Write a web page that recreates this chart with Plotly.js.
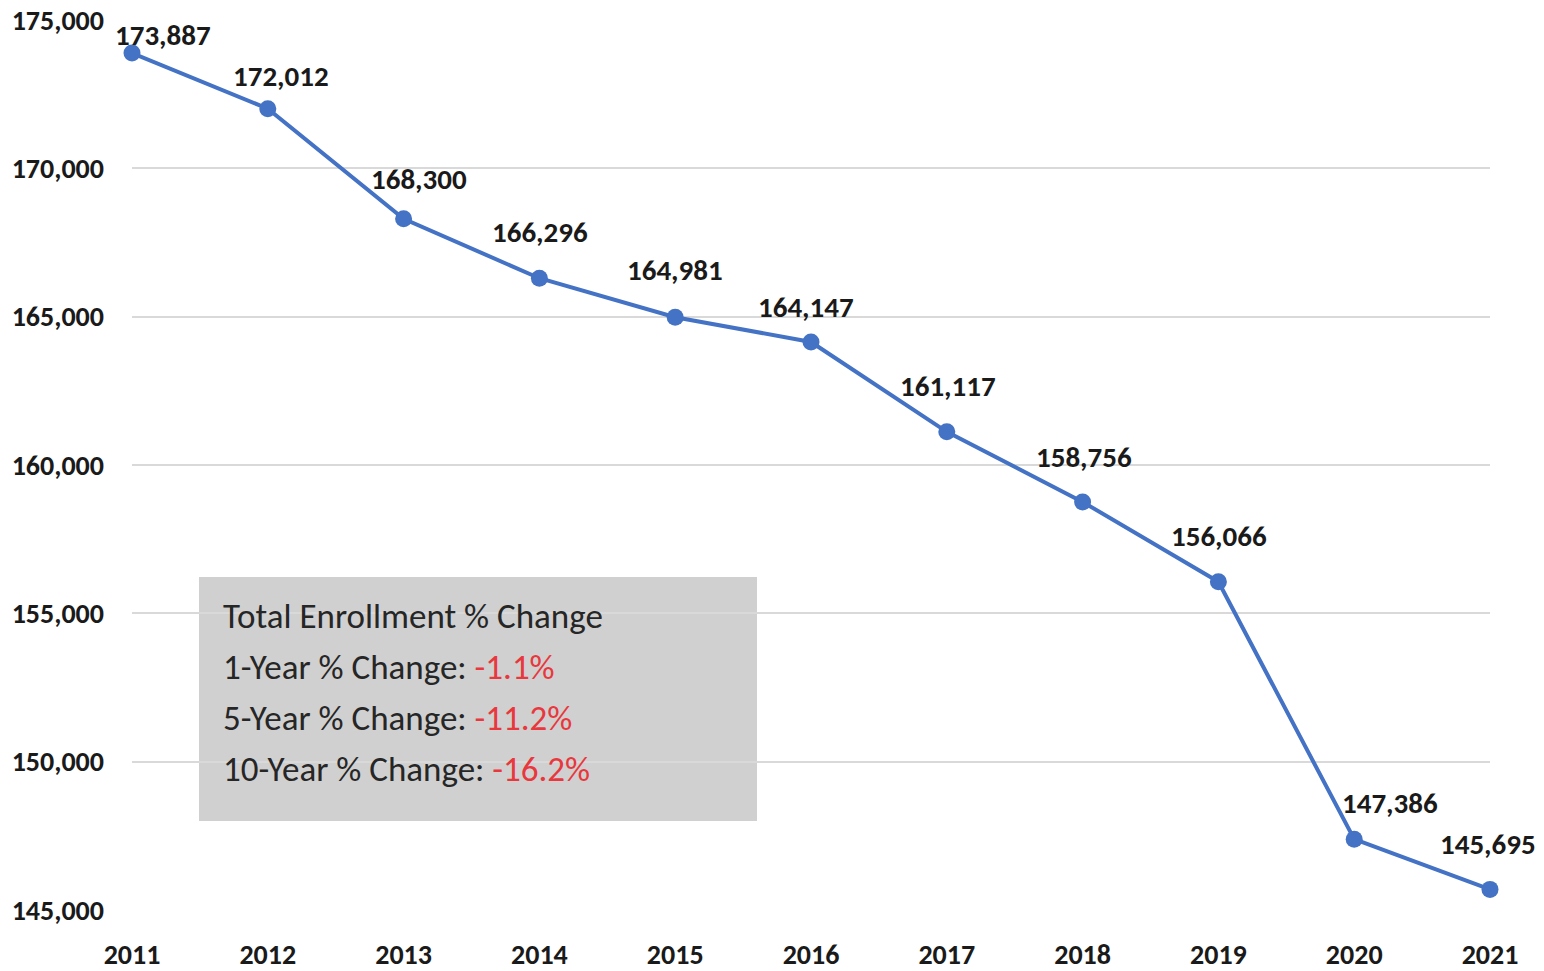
<!DOCTYPE html>
<html><head><meta charset="utf-8">
<script src="https://cdn.plot.ly/plotly-3.0.1.min.js"></script>
<style>html,body{margin:0;padding:0;background:#fff}#chart{width:1544px;height:971px}</style>
</head><body><div id="chart"></div>
<script>
const years = [2011, 2012, 2013, 2014, 2015, 2016, 2017, 2018, 2019, 2020, 2021];
const enrollment = [173887, 172012, 168300, 166296, 164981, 164147, 161117, 158756, 156066, 147386, 145695];
const yTicks = [145000, 150000, 155000, 160000, 165000, 170000, 175000];
const boxTitle = "Total Enrollment % Change";
const changeLabels = ["1-Year % Change:", "5-Year % Change:", "10-Year % Change:"];
const changeValues = ["-1.1%", "-11.2%", "-16.2%"];

// label placement offsets (pixels) — layout only
const labelDX = [31, 13, 15, 1, 0, -5, 1, 1, 1, 36, -2];
const labelDY = [-18, -33, -40, -46, -47, -35, -46, -45, -46, -36, -45];

const FONT = "Carlito, Lato, 'Open Sans', sans-serif";
const fmt = v => v.toLocaleString('en-US');

const annotations = years.map((yr, i) => ({
  x: yr, y: enrollment[i], xref: 'x', yref: 'y',
  text: '<b>' + fmt(enrollment[i]) + '</b>',
  showarrow: true, arrowcolor: 'rgba(0,0,0,0)', ax: labelDX[i], ay: labelDY[i],
  font: {family: FONT, size: 29, color: '#1a1a1a'}
}));

const boxLines = [boxTitle].concat(changeLabels.map((l, i) =>
  l + ' <span style="color:#e8383d">' + changeValues[i] + '</span>'));
boxLines.forEach((t, i) => annotations.push({
  xref: 'paper', yref: 'paper', x: (221 - 132) / (1490 - 132), y: 1 - (616 - 20 + i * 51) / 890,
  xanchor: 'left', yanchor: 'middle', showarrow: false, text: t,
  font: {family: FONT, size: 35, color: '#262626'}
}));

const shapes = [{
  type: 'rect', xref: 'paper', yref: 'paper', layer: 'below',
  x0: (199 - 132) / 1358, x1: (757 - 132) / 1358,
  y0: 1 - (821 - 20) / 890, y1: 1 - (577 - 20) / 890,
  fillcolor: '#d0d0d0', line: {width: 0}
}];

Plotly.newPlot('chart', [{
  type: 'scatter', mode: 'lines+markers', x: years, y: enrollment,
  line: {color: '#4472c4', width: 4}, marker: {color: '#4472c4', size: 17},
  cliponaxis: false, hoverinfo: 'skip'
}], {
  width: 1544, height: 971,
  margin: {l: 132, r: 54, t: 20, b: 61},
  paper_bgcolor: '#fff', plot_bgcolor: '#fff',
  showlegend: false,
  xaxis: {range: [2011, 2021], tickvals: years, ticktext: years.map(y => '<b>' + y + '</b>'),
    showgrid: false, zeroline: false, showline: false, ticks: '',
    ticklabelstandoff: 25,
    tickfont: {family: FONT, size: 28, color: '#1a1a1a'}},
  yaxis: {range: [145000, 175000], tickvals: yTicks, ticktext: yTicks.map(v => '<b>' + fmt(v) + '</b>'),
    showgrid: true, gridcolor: '#d9d9d9', gridwidth: 2, zeroline: false, showline: false, ticks: '',
    ticklabelstandoff: 27,
    tickfont: {family: FONT, size: 28, color: '#1a1a1a'}},
  annotations: annotations, shapes: shapes
}, {displayModeBar: false, staticPlot: true});
</script></body></html>
